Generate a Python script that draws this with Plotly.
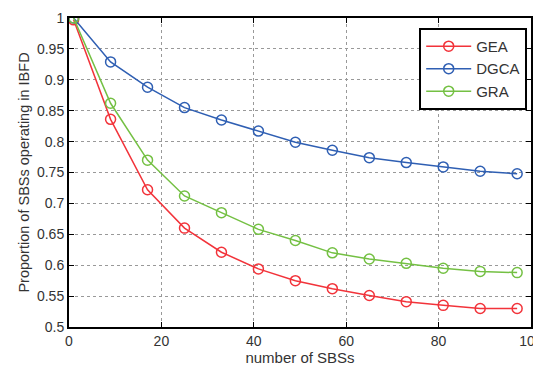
import plotly.graph_objects as go

x_sbs = [1, 9, 17, 25, 33, 41, 49, 57, 65, 73, 81, 89, 97]
gea = [0.997, 0.836, 0.722, 0.660, 0.621, 0.594, 0.575, 0.562, 0.551, 0.541, 0.535, 0.530, 0.530]
dgca = [1.0, 0.929, 0.888, 0.855, 0.835, 0.817, 0.799, 0.786, 0.774, 0.766, 0.759, 0.752, 0.748]
gra = [1.0, 0.862, 0.770, 0.712, 0.685, 0.658, 0.640, 0.620, 0.610, 0.603, 0.595, 0.590, 0.588]

series = [("GEA", gea, "#f2333a"), ("DGCA", dgca, "#2f5fb3"), ("GRA", gra, "#74c043")]

fig = go.Figure()
for name, vals, col in series:
    fig.add_trace(go.Scatter(
        x=x_sbs, y=vals, name=name, mode="lines+markers",
        line=dict(color=col, width=1.5),
        marker=dict(symbol="circle-open", size=10, color=col, line=dict(width=1.5)),
    ))

FONT = "Liberation Sans, Arial"
axis_common = dict(
    showline=True, linecolor="black", linewidth=2, mirror="ticks",
    ticks="inside", ticklen=5, tickcolor="black",
    showgrid=True, gridcolor="#999999", griddash="dot", gridwidth=1,
    zeroline=False, automargin=False,
    tickfont=dict(family=FONT, size=14, color="#333333"),
)

fig.update_layout(
    width=541, height=370,
    margin=dict(l=61, r=18, t=10, b=51),
    paper_bgcolor="white", plot_bgcolor="white",
    xaxis=dict(range=[0, 100], dtick=20,
               title=dict(text="number of SBSs", standoff=2,
                          font=dict(family=FONT, size=15, color="#333333")),
               **axis_common),
    yaxis=dict(range=[0.5, 1.0], dtick=0.05, tickformat="~g",
               title=dict(text="Proportion of SBSs operating in IBFD", standoff=4,
                          font=dict(family=FONT, size=14.5, color="#333333")),
               **axis_common),
    legend=dict(x=0.758, y=0.968, xanchor="left", yanchor="top",
                bgcolor="white", bordercolor="black", borderwidth=2,
                font=dict(family=FONT, size=15, color="#333333"),
                tracegroupgap=0, itemwidth=45),
    showlegend=True,
)

fig.write_html("out.html")
